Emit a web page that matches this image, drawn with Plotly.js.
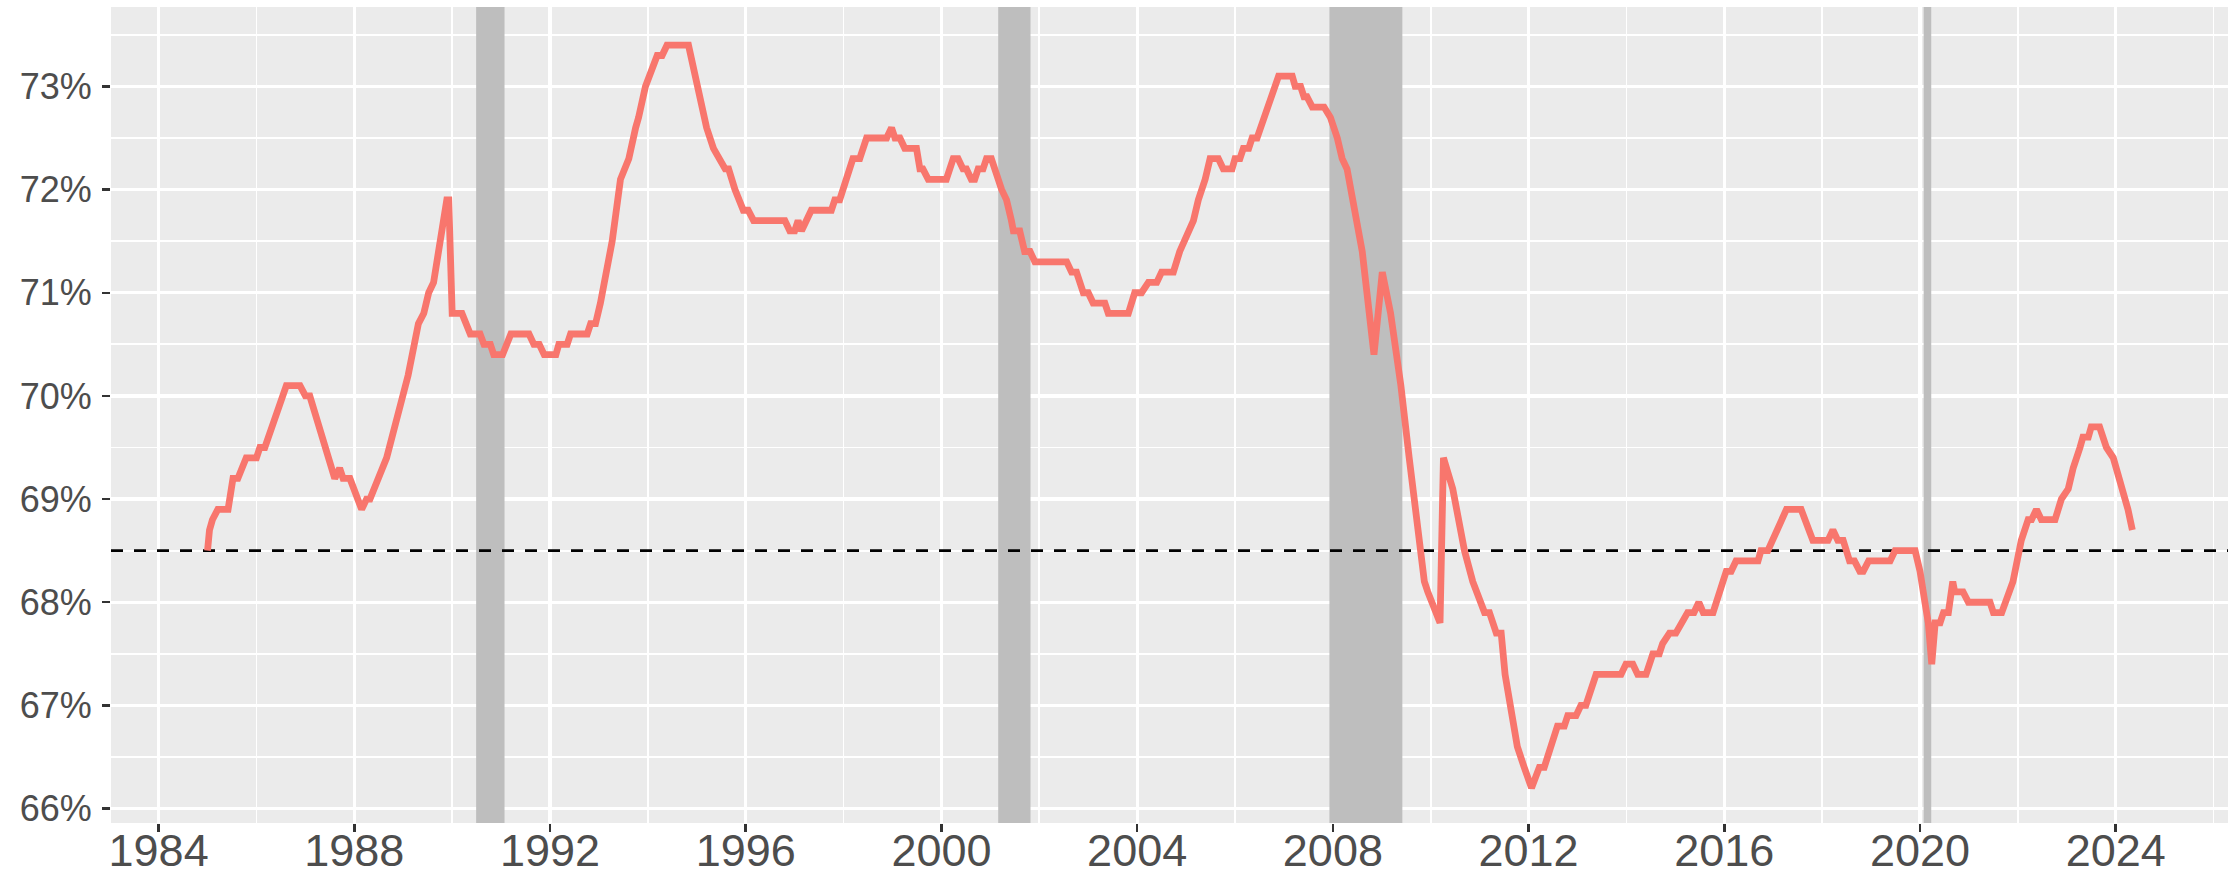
<!DOCTYPE html>
<html>
<head>
<meta charset="utf-8">
<script src="https://cdn.plot.ly/plotly-3.0.1.min.js"></script>
<style>
  html, body { margin: 0; padding: 0; background: #ffffff; }
  #chart { width: 2239px; height: 874px; }
</style>
</head>
<body>
<div id="chart"></div>
<script>
const years = [
  1985.0, 1985.04, 1985.1, 1985.21, 1985.42, 1985.52, 1985.62, 1985.79, 1986.0, 1986.07,
  1986.17, 1986.61, 1986.89, 1987.0, 1987.09, 1987.36, 1987.47, 1987.6, 1987.7, 1987.77,
  1987.91, 1988.15, 1988.25, 1988.32, 1988.66, 1988.77, 1988.9, 1989.04, 1989.1, 1989.31,
  1989.42, 1989.52, 1989.62, 1989.89, 1989.93, 1990.0, 1990.2, 1990.37, 1990.57, 1990.65,
  1990.78, 1990.85, 1991.03, 1991.2, 1991.57, 1991.67, 1991.78, 1991.88, 1992.12, 1992.18,
  1992.35, 1992.42, 1992.76, 1992.83, 1992.93, 1993.03, 1993.27, 1993.44, 1993.61, 1993.75,
  1993.81, 1993.95, 1994.02, 1994.19, 1994.29, 1994.39, 1994.83, 1994.93, 1995.07, 1995.2,
  1995.34, 1995.48, 1995.58, 1995.65, 1995.78, 1995.95, 1996.05, 1996.16, 1996.8, 1996.9,
  1997.0, 1997.07, 1997.14, 1997.24, 1997.34, 1997.75, 1997.82, 1997.92, 1998.19, 1998.33,
  1998.47, 1998.88, 1998.98, 1999.05, 1999.15, 1999.25, 1999.49, 1999.56, 1999.62, 1999.73,
  2000.1, 2000.24, 2000.34, 2000.44, 2000.51, 2000.61, 2000.68, 2000.75, 2000.85, 2000.92,
  2001.02, 2001.23, 2001.33, 2001.43, 2001.47, 2001.6, 2001.7, 2001.81, 2001.91, 2002.56,
  2002.66, 2002.76, 2002.9, 2003.0, 2003.1, 2003.34, 2003.41, 2003.82, 2003.95, 2004.09,
  2004.23, 2004.4, 2004.5, 2004.74, 2004.87, 2005.15, 2005.25, 2005.39, 2005.49, 2005.66,
  2005.76, 2005.94, 2006.0, 2006.1, 2006.17, 2006.28, 2006.35, 2006.45, 2006.89, 2007.17,
  2007.23, 2007.34, 2007.41, 2007.47, 2007.58, 2007.82, 2007.95, 2008.09, 2008.19, 2008.29,
  2008.43, 2008.6, 2008.84, 2008.98, 2009.01, 2009.18, 2009.39, 2009.56, 2009.7, 2009.87,
  2009.94, 2010.19, 2010.26, 2010.45, 2010.69, 2010.86, 2011.1, 2011.2, 2011.34, 2011.44,
  2011.52, 2011.77, 2011.91, 2012.06, 2012.22, 2012.32, 2012.59, 2012.73, 2012.8, 2012.97,
  2013.07, 2013.17, 2013.38, 2013.89, 2013.99, 2014.13, 2014.23, 2014.4, 2014.54, 2014.67,
  2014.74, 2014.88, 2015.01, 2015.12, 2015.25, 2015.38, 2015.48, 2015.57, 2015.77, 2016.04,
  2016.14, 2016.24, 2016.69, 2016.75, 2016.89, 2017.27, 2017.57, 2017.81, 2018.12, 2018.22,
  2018.32, 2018.43, 2018.56, 2018.66, 2018.77, 2018.84, 2018.95, 2019.39, 2019.49, 2019.9,
  2020.0, 2020.1, 2020.17, 2020.24, 2020.31, 2020.41, 2020.48, 2020.58, 2020.67, 2020.71,
  2020.88, 2020.99, 2021.43, 2021.5, 2021.67, 2021.9, 2022.07, 2022.21, 2022.28, 2022.38,
  2022.48, 2022.76, 2022.89, 2023.03, 2023.13, 2023.27, 2023.33, 2023.44, 2023.5, 2023.67,
  2023.81, 2023.95, 2024.08, 2024.18, 2024.25, 2024.34
];

// Rate in percent
const rates = [
  68.5, 68.7, 68.8, 68.9, 68.9, 69.2, 69.2, 69.4, 69.4, 69.5,
  69.5, 70.1, 70.1, 70.0, 70.0, 69.6, 69.4, 69.2, 69.3, 69.2,
  69.2, 68.9, 69.0, 69.0, 69.4, 69.6, 69.8, 70.1, 70.2, 70.7,
  70.8, 71.0, 71.1, 71.9, 71.9, 70.8, 70.8, 70.6, 70.6, 70.5,
  70.5, 70.4, 70.4, 70.6, 70.6, 70.5, 70.5, 70.4, 70.4, 70.5,
  70.5, 70.6, 70.6, 70.7, 70.7, 70.9, 71.5, 72.1, 72.3, 72.6,
  72.7, 73.0, 73.1, 73.3, 73.3, 73.4, 73.4, 73.2, 72.9, 72.6,
  72.4, 72.3, 72.2, 72.2, 72.0, 71.8, 71.8, 71.7, 71.7, 71.6,
  71.6, 71.7, 71.6, 71.7, 71.8, 71.8, 71.9, 71.9, 72.3, 72.3,
  72.5, 72.5, 72.6, 72.5, 72.5, 72.4, 72.4, 72.2, 72.2, 72.1,
  72.1, 72.3, 72.3, 72.2, 72.2, 72.1, 72.1, 72.2, 72.2, 72.3,
  72.3, 72.0, 71.9, 71.7, 71.6, 71.6, 71.4, 71.4, 71.3, 71.3,
  71.2, 71.2, 71.0, 71.0, 70.9, 70.9, 70.8, 70.8, 71.0, 71.0,
  71.1, 71.1, 71.2, 71.2, 71.4, 71.7, 71.9, 72.1, 72.3, 72.3,
  72.2, 72.2, 72.3, 72.3, 72.4, 72.4, 72.5, 72.5, 73.1, 73.1,
  73.0, 73.0, 72.9, 72.9, 72.8, 72.8, 72.7, 72.5, 72.3, 72.2,
  71.8, 71.4, 70.4, 71.1, 71.2, 70.8, 70.1, 69.4, 68.8, 68.2,
  68.1, 67.8, 69.4, 69.1, 68.5, 68.2, 67.9, 67.9, 67.7, 67.7,
  67.3, 66.6, 66.4, 66.2, 66.4, 66.4, 66.8, 66.8, 66.9, 66.9,
  67.0, 67.0, 67.3, 67.3, 67.4, 67.4, 67.3, 67.3, 67.5, 67.5,
  67.6, 67.7, 67.7, 67.8, 67.9, 67.9, 68.0, 67.9, 67.9, 68.3,
  68.3, 68.4, 68.4, 68.5, 68.5, 68.9, 68.9, 68.6, 68.6, 68.7,
  68.6, 68.6, 68.4, 68.4, 68.3, 68.3, 68.4, 68.4, 68.5, 68.5,
  68.3, 68.0, 67.8, 67.4, 67.8, 67.8, 67.9, 67.9, 68.2, 68.1,
  68.1, 68.0, 68.0, 67.9, 67.9, 68.2, 68.6, 68.8, 68.8, 68.9,
  68.8, 68.8, 69.0, 69.1, 69.3, 69.5, 69.6, 69.6, 69.7, 69.7,
  69.5, 69.4, 69.2, 69.0, 68.9, 68.7
];

// Recession periods (decimal years)
const recessionStarts = [1990.49, 2001.16, 2007.93, 2020.075];
const recessionEnds   = [1991.07, 2001.82, 2009.42, 2020.23];

// Reference level (percent)
const referenceLevel = 68.5;

// Axis ranges and ticks
const xRange = [1983.027, 2026.295];
const yRange = [65.86, 73.77];
const xTickVals = [1984, 1988, 1992, 1996, 2000, 2004, 2008, 2012, 2016, 2020, 2024];
const xTickText = ["1984", "1988", "1992", "1996", "2000", "2004", "2008", "2012", "2016", "2020", "2024"];
const yTickVals = [66, 67, 68, 69, 70, 71, 72, 73];
const yTickText = ["66%", "67%", "68%", "69%", "70%", "71%", "72%", "73%"];

const FONT = '"Liberation Sans", Arial, Helvetica, sans-serif';

// Recession bands as filled traces (drawn above the grid)
const bandTraces = recessionStarts.map((s, i) => ({
  type: 'scatter', mode: 'lines',
  x: [s, s, recessionEnds[i], recessionEnds[i], s],
  y: [yRange[0], yRange[1], yRange[1], yRange[0], yRange[0]],
  fill: 'toself', fillcolor: '#BEBEBE',
  line: { width: 0, color: 'rgba(0,0,0,0)' },
  hoverinfo: 'skip', showlegend: false
}));

const refTrace = {
  type: 'scatter', mode: 'lines',
  x: xRange, y: [referenceLevel, referenceLevel],
  line: { color: '#000000', width: 2.6, dash: '12px,11px' },
  hoverinfo: 'skip', showlegend: false
};

const lineTrace = {
  x: years, y: rates, type: 'scatter', mode: 'lines',
  line: { color: '#F8766D', width: 6.8, shape: 'linear' },
  hoverinfo: 'x+y', showlegend: false
};

const layout = {
  width: 2239, height: 874,
  margin: { l: 111, r: 11, t: 7, b: 51, pad: 0 },
  paper_bgcolor: '#FFFFFF',
  plot_bgcolor: '#EBEBEB',
  showlegend: false,
  font: { family: FONT, color: '#4D4D4D' },
  xaxis: {
    type: 'linear',
    range: xRange,
    tickmode: 'array', tickvals: xTickVals, ticktext: xTickText,
    showgrid: true, gridcolor: '#FFFFFF', gridwidth: 3.2,
    minor: { tick0: 1984, dtick: 2, showgrid: true, gridcolor: '#FFFFFF', gridwidth: 1.7, ticks: '' },
    zeroline: false, showline: false,
    ticks: 'outside', ticklen: 8, tickwidth: 2.5, tickcolor: '#333333',
    tickfont: { family: FONT, size: 45, color: '#4D4D4D' },
    ticklabelstandoff: -20,
    automargin: false, fixedrange: true
  },
  yaxis: {
    type: 'linear',
    range: yRange,
    tickmode: 'array', tickvals: yTickVals, ticktext: yTickText,
    showgrid: true, gridcolor: '#FFFFFF', gridwidth: 3.2,
    minor: { tick0: 66, dtick: 0.5, showgrid: true, gridcolor: '#FFFFFF', gridwidth: 1.7, ticks: '' },
    zeroline: false, showline: false,
    ticks: 'outside', ticklen: 8, tickwidth: 2.5, tickcolor: '#333333',
    tickfont: { family: FONT, size: 36, color: '#4D4D4D' },
    ticklabelstandoff: 3,
    automargin: false, fixedrange: true
  }
};

Plotly.newPlot('chart', bandTraces.concat([refTrace, lineTrace]), layout, { displayModeBar: false, staticPlot: true });
</script>
</body>
</html>
